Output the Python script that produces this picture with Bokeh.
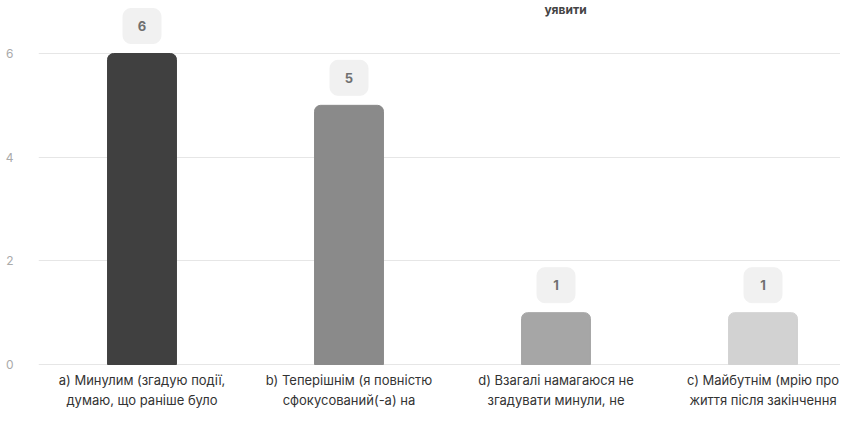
from bokeh.plotting import figure
from bokeh.models import ColumnDataSource, Range1d, Label, FixedTicker
from bokeh.core.properties import value
from bokeh.embed import file_html
from bokeh.resources import INLINE
import numpy as np

categories = [
    "a) Минулим (згадую події,\nдумаю, що раніше було",
    "b) Теперішнім (я повністю\nсфокусований(-а) на",
    "d) Взагалі намагаюся не\nзгадувати минули, не",
    "c) Майбутнім (мрію про\nжиття після закінчення",
]
counts = [6, 5, 1, 1]
colors = ["#404040", "#8a8a8a", "#a6a6a6", "#d2d2d2"]
y_ticks = [0, 2, 4, 6]
title_fragment = "уявити"

# layout helpers (style, pixels)
W, H = 840, 411
LEFT = 38          # frame left border
ZERO_PX = 364      # pixel row of the zero line from top
PX_Y = (364 - 53) / 6.0   # pixels per unit on y
PX_X = 207.0       # pixels per category on x
box_gap_px, box_h_px, box_w_px = 10, 35, 38

xpos = np.arange(len(categories)) + 0.5
top = np.array(counts, dtype=float)
src = ColumnDataSource(dict(
    x=xpos, top=top, color=colors, cat=categories, lbl=[str(c) for c in counts],
    box_bottom=top + box_gap_px / PX_Y, box_top=top + (box_gap_px + box_h_px) / PX_Y,
    box_mid=top + (box_gap_px + box_h_px / 2) / PX_Y,
))

p = figure(width=W, height=H, output_backend="svg", toolbar_location=None,
           x_range=Range1d(0, (W - LEFT) / PX_X),
           y_range=Range1d(-(H - ZERO_PX) / PX_Y, ZERO_PX / PX_Y),
           min_border_left=LEFT, min_border_right=0, min_border_top=0, min_border_bottom=0)
p.outline_line_color = None
p.background_fill_color = "white"
p.xaxis.visible = False
p.xgrid.visible = False

p.yaxis.ticker = FixedTicker(ticks=y_ticks)
p.yaxis.axis_line_color = None
p.yaxis.major_tick_line_color = None
p.yaxis.minor_tick_line_color = None
p.yaxis.major_label_standoff = 19
p.yaxis.major_label_text_color = "#aaaaaa"
p.yaxis.major_label_text_font = "Inter"
p.yaxis.major_label_text_font_size = "12px"
p.ygrid.ticker = FixedTicker(ticks=y_ticks)
p.ygrid.grid_line_color = "#e6e6e6"
p.ygrid.grid_line_width = 1

p.vbar(x="x", top="top", bottom=0, width=0.333, color="color", source=src,
       border_radius=(6, 6, 0, 0))

p.vbar(x="x", top="box_top", bottom="box_bottom", width=box_w_px / PX_X,
       color="#f1f1f1", source=src, border_radius=8)
p.text(x="x", y="box_mid", text="lbl", source=src, text_align="center",
       text_baseline="middle", text_font=value("Inter"), text_font_size="13px",
       text_color="#707070", text_font_style="bold")

p.text(x="x", y=0, text="cat", source=src, y_offset=7,
       text_align="center", text_baseline="top",
       text_font=value("Inter"), text_font_size="13px", text_color="#333333",
       text_line_height=1.3)

p.add_layout(Label(x=(565 - LEFT) / PX_X, y=ZERO_PX / PX_Y, y_offset=-1,
                   text=title_fragment, text_align="center", text_baseline="top",
                   text_font="Inter", text_font_size="12px", text_font_style="bold",
                   text_color="#444444"))

open("out.html", "w").write(file_html(p, INLINE))
